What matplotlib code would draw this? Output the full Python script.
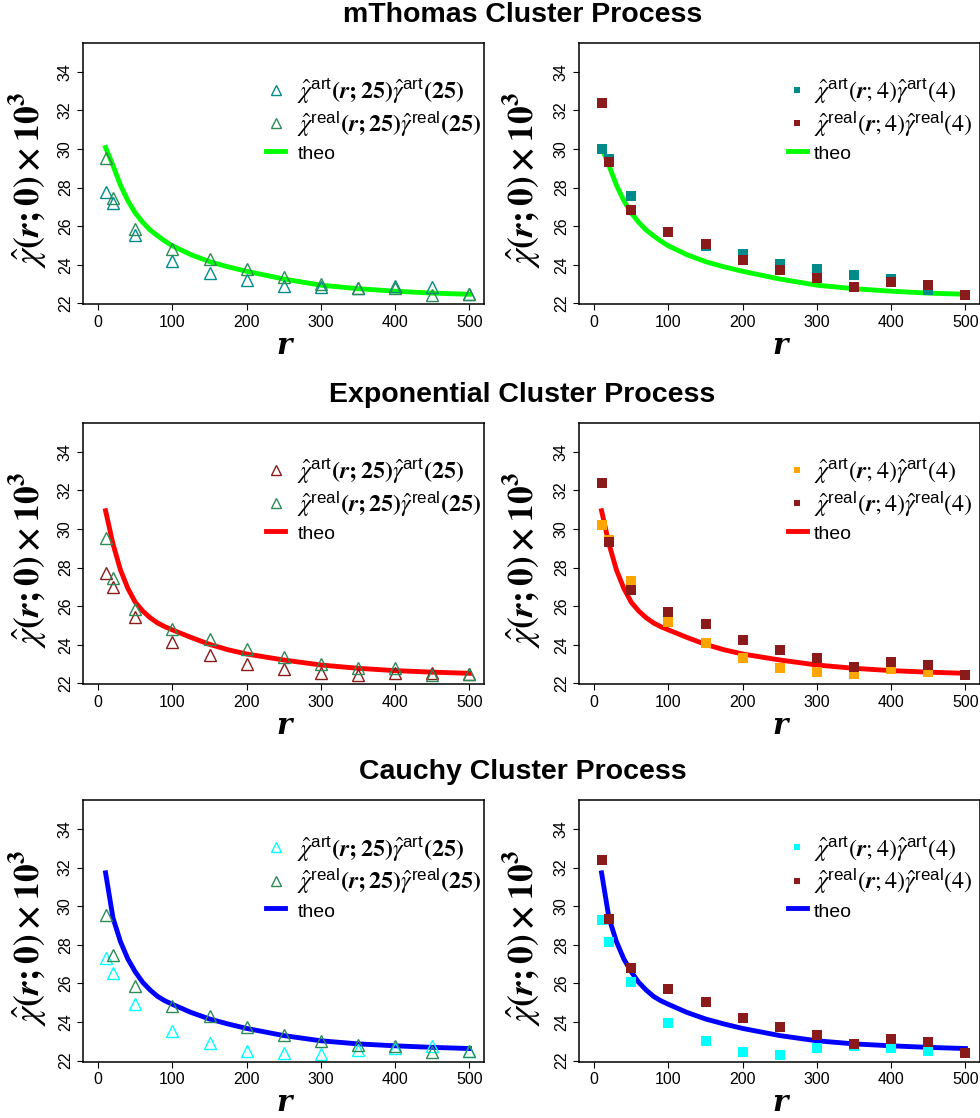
import matplotlib
matplotlib.use("Agg")
import matplotlib.pyplot as plt

plt.rcParams["font.family"] = ["Liberation Sans", "DejaVu Sans"]
plt.rcParams["mathtext.fontset"] = "stix"

# lag grid of the estimates
r = [10, 20, 50, 100, 150, 200, 250, 300, 350, 400, 450, 500]

# estimates with 25 points (left column), real data is the same for every process
real_25 = [29.55, 27.45, 25.85, 24.82, 24.31, 23.77, 23.35, 23.00, 22.80, 22.77, 22.43, 22.48]
art_25_thomas = [27.75, 27.21, 25.54, 24.21, 23.59, 23.21, 22.92, 22.86, 22.81, 22.90, 22.86, 22.47]
art_25_exp = [27.73, 27.01, 25.45, 24.12, 23.47, 22.98, 22.74, 22.52, 22.43, 22.55, 22.52, 22.47]
art_25_cauchy = [27.34, 26.56, 24.93, 23.55, 22.90, 22.52, 22.38, 22.34, 22.57, 22.65, 22.77, 22.52]

# estimates with 4 points (right column)
real_4 = [32.38, 29.32, 26.82, 25.69, 25.05, 24.23, 23.73, 23.33, 22.84, 23.13, 22.96, 22.42]
art_4_thomas = [29.99, 29.46, 27.56, 25.69, 24.97, 24.54, 24.02, 23.78, 23.47, 23.24, 22.69, 22.43]
art_4_exp = [30.20, 29.42, 27.30, 25.18, 24.11, 23.33, 22.81, 22.60, 22.48, 22.73, 22.60, 22.43]
art_4_cauchy = [29.30, 28.17, 26.05, 23.97, 23.04, 22.47, 22.29, 22.67, 22.76, 22.67, 22.52, 22.42]

# theoretical curves
r_theo = [10, 20, 30, 40, 50, 60, 70, 80, 90, 100, 125, 150, 175, 200, 250, 300, 350, 400, 450, 500]
theo_thomas = [30.07, 29.14, 28.12, 27.32, 26.68, 26.20, 25.80, 25.50, 25.22, 24.98, 24.52, 24.16,
               23.89, 23.66, 23.26, 22.94, 22.76, 22.63, 22.53, 22.47]
theo_exp = [30.94, 29.22, 27.88, 26.92, 26.20, 25.75, 25.40, 25.13, 24.93, 24.77, 24.38, 24.02,
            23.74, 23.52, 23.21, 22.95, 22.78, 22.66, 22.58, 22.52]
theo_cauchy = [31.73, 29.39, 28.17, 27.27, 26.60, 26.06, 25.66, 25.33, 25.10, 24.92, 24.50, 24.16,
               23.90, 23.67, 23.30, 23.03, 22.87, 22.77, 22.69, 22.63]

titles = ["mThomas Cluster Process", "Exponential Cluster Process", "Cauchy Cluster Process"]
theo_values = [theo_thomas, theo_exp, theo_cauchy]
theo_colors = ["#00ff00", "#ff0000", "#0000ff"]
art_25_values = [art_25_thomas, art_25_exp, art_25_cauchy]
art_25_colors = ["#008b8b", "#8b1a1a", "#00ffff"]
art_4_values = [art_4_thomas, art_4_exp, art_4_cauchy]
art_4_colors = ["#008b8b", "#ffa500", "#00ffff"]
real_25_color = "#2e8b57"
real_4_color = "#8b1a1a"

lab_25_art = (r"$\boldsymbol{\hat{\chi}}^{\mathregular{art}}\mathbf{(}\boldsymbol{r}\mathbf{;25)}"
              r"\hat{\gamma}^{\mathregular{art}}\mathbf{(25)}$")
lab_25_real = (r"$\boldsymbol{\hat{\chi}}^{\mathregular{real}}\mathbf{(}\boldsymbol{r}\mathbf{;25)}"
               r"\hat{\gamma}^{\mathregular{real}}\mathbf{(25)}$")
lab_4_art = r"$\boldsymbol{\hat{\chi}}^{\mathregular{art}}(\boldsymbol{r};4)\hat{\gamma}^{\mathregular{art}}(4)$"
lab_4_real = r"$\boldsymbol{\hat{\chi}}^{\mathregular{real}}(\boldsymbol{r};4)\hat{\gamma}^{\mathregular{real}}(4)$"
y_label = r"$\boldsymbol{\hat{\chi}}\mathbf{(}\boldsymbol{r}\mathbf{;0)\times10^3}$"

fig = plt.figure(figsize=(9.8, 11.18), dpi=100)

col_left = [0.085, 0.5911]
ylab_x = [-0.085, -0.09]
legend_x = [0.456, 0.52]
text_pad = [0.5, 0.3]
row_bottom = [0.7278, 0.3879, 0.0504]
title_y = [0.9866, 0.6467, 0.3095]
ax_w, ax_h = 0.4092, 0.234


def style_axes(ax, col):
    ax.set_xlim(-20, 520)
    ax.set_ylim(21.95, 35.5)
    ax.set_xticks(range(0, 501, 100))
    ax.set_yticks(range(22, 35, 2))
    ax.tick_params(direction="out", length=4.5, width=0.8, labelsize=11.5, pad=3)
    for lab in ax.get_yticklabels():
        lab.set_rotation(90)
        lab.set_va("center")
    for s in ax.spines.values():
        s.set_linewidth(1.1)
    ax.set_xlabel("r", fontsize=21, fontfamily="DejaVu Serif", fontstyle="italic",
                  fontweight="bold", labelpad=1)
    ax.set_ylabel(y_label, fontsize=25.5)
    ax.yaxis.set_label_coords(ylab_x[col], 0.475)


def add_legend(ax, handles, labels, col):
    leg = ax.legend(handles, labels, loc="center left", bbox_to_anchor=(legend_x[col], 0.705),
                    frameon=False, fontsize=17.3, handlelength=0.8, handletextpad=text_pad[col],
                    labelspacing=0.15, borderaxespad=0, borderpad=0, markerscale=0.75)
    leg.get_texts()[2].set_fontsize(14)


for i in range(3):
    fig.text(0.533, title_y[i], titles[i], ha="center", va="center", fontsize=20.5, fontweight="bold")

    # left: 25 points, open triangles
    ax = fig.add_axes([col_left[0], row_bottom[i], ax_w, ax_h])
    ax.plot(r_theo, theo_values[i], color=theo_colors[i], lw=3.5, zorder=1)
    h1, = ax.plot(r, art_25_values[i], ls="none", marker="^", ms=9, mfc="none", mew=1,
                  mec=art_25_colors[i], zorder=2)
    h2, = ax.plot(r, real_25, ls="none", marker="^", ms=9, mfc="none", mew=1,
                  mec=real_25_color, zorder=3)
    h3, = ax.plot([], [], color=theo_colors[i], lw=3.5)
    add_legend(ax, [h1, h2, h3], [lab_25_art, lab_25_real, "theo"], 0)
    style_axes(ax, 0)

    # right: 4 points, filled squares
    ax = fig.add_axes([col_left[1], row_bottom[i], ax_w, ax_h])
    ax.plot(r_theo, theo_values[i], color=theo_colors[i], lw=3.5, zorder=1)
    h1, = ax.plot(r, art_4_values[i], ls="none", marker="s", ms=6.5, mew=0,
                  color=art_4_colors[i], zorder=2)
    h2, = ax.plot(r, real_4, ls="none", marker="s", ms=6.5, mew=0,
                  color=real_4_color, zorder=3)
    h3, = ax.plot([], [], color=theo_colors[i], lw=3.5)
    add_legend(ax, [h1, h2, h3], [lab_4_art, lab_4_real, "theo"], 1)
    style_axes(ax, 1)

fig.savefig("out.png", dpi=100)
